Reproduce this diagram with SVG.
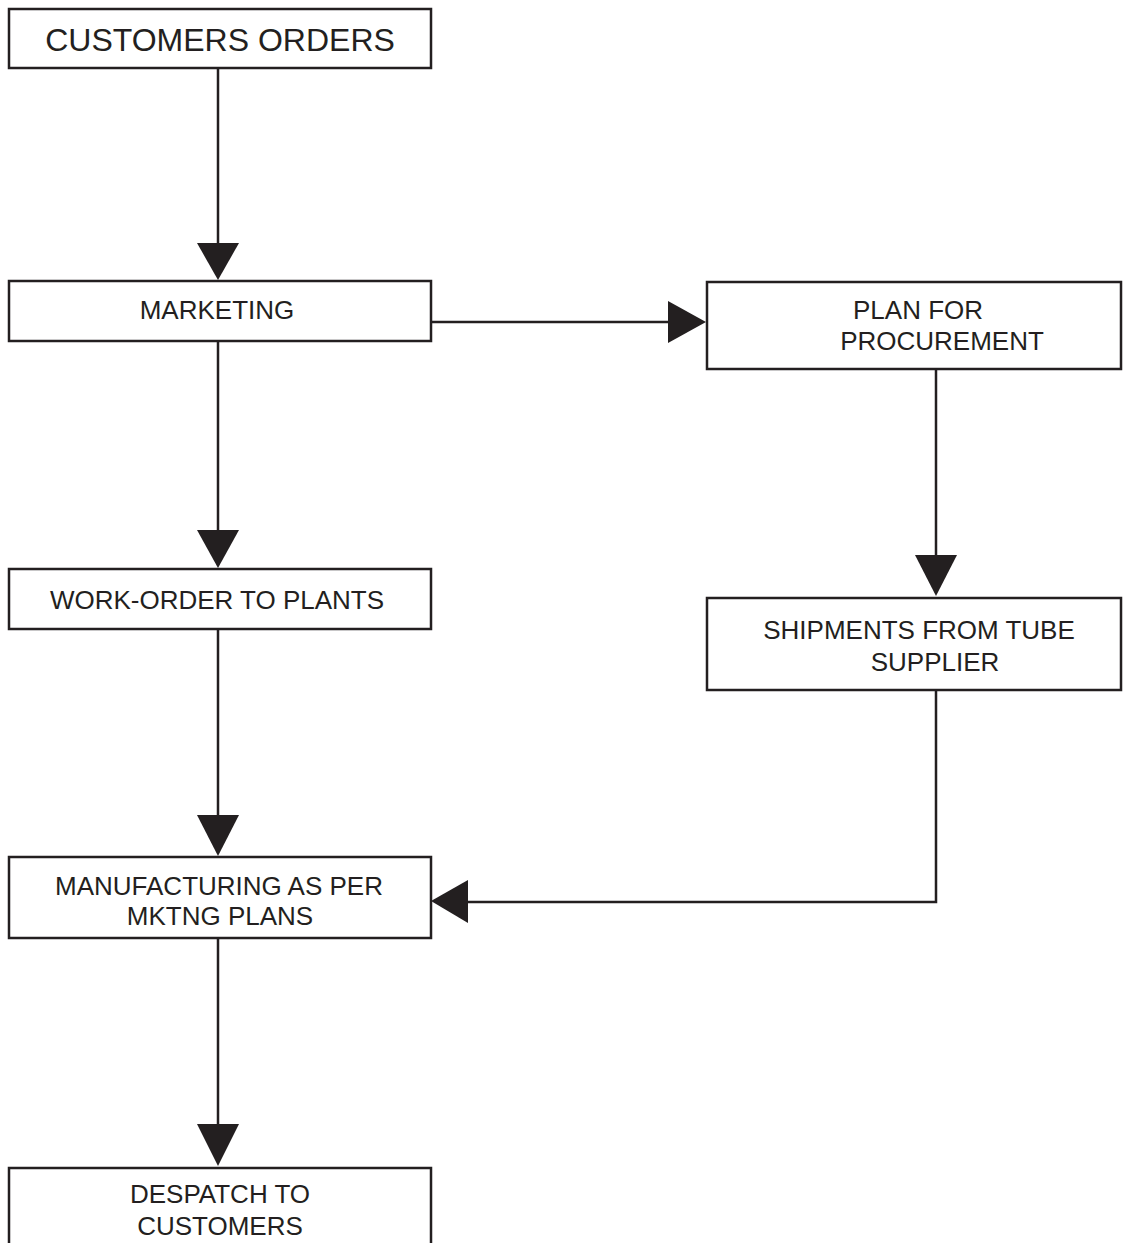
<svg xmlns="http://www.w3.org/2000/svg" width="1123" height="1243" viewBox="0 0 1123 1243">
<style>
.box{fill:#fff;stroke:#231f20;stroke-width:2.5}
.t{font-family:"Liberation Sans",Arial,sans-serif;font-size:26px;fill:#231f20;text-anchor:middle}
.big{font-size:32px}
.ln{fill:none;stroke:#231f20;stroke-width:2.5}
.hd{fill:#231f20}
</style>
<rect width="1123" height="1243" fill="#fff"/>
<g id="connectors">
<line class="ln" x1="218" y1="68" x2="218" y2="246"/>
<polygon class="hd" points="197,243 239,243 218,280"/>
<line class="ln" x1="218" y1="341" x2="218" y2="533"/>
<polygon class="hd" points="197,530 239,530 218,568"/>
<line class="ln" x1="218" y1="629" x2="218" y2="818"/>
<polygon class="hd" points="197,815 239,815 218,856"/>
<line class="ln" x1="218" y1="938" x2="218" y2="1127"/>
<polygon class="hd" points="197,1124 239,1124 218,1166"/>
<line class="ln" x1="431" y1="322" x2="671" y2="322"/>
<polygon class="hd" points="668,301 668,343 706,322"/>
<line class="ln" x1="936" y1="369" x2="936" y2="558"/>
<polygon class="hd" points="915,555 957,555 936,596"/>
<polyline class="ln" points="936,690 936,902 465,902"/>
<polygon class="hd" points="468,880 468,923 431,901"/>
</g>
<g id="customers-orders">
<rect class="box" x="9" y="9" width="422" height="59"/>
<text class="t big" x="220" y="51">CUSTOMERS ORDERS</text>
</g>
<g id="marketing">
<rect class="box" x="9" y="281" width="422" height="60"/>
<text class="t" x="217" y="319">MARKETING</text>
</g>
<g id="plan-procurement">
<rect class="box" x="707" y="282" width="414" height="87"/>
<text class="t" x="918" y="319">PLAN FOR</text>
<text class="t" x="942" y="350">PROCUREMENT</text>
</g>
<g id="work-order">
<rect class="box" x="9" y="569" width="422" height="60"/>
<text class="t" x="217" y="609">WORK-ORDER TO PLANTS</text>
</g>
<g id="shipments">
<rect class="box" x="707" y="598" width="414" height="92"/>
<text class="t" x="919" y="639">SHIPMENTS FROM TUBE</text>
<text class="t" x="935" y="671">SUPPLIER</text>
</g>
<g id="manufacturing">
<rect class="box" x="9" y="857" width="422" height="81"/>
<text class="t" x="219" y="895">MANUFACTURING AS PER</text>
<text class="t" x="220" y="925">MKTNG PLANS</text>
</g>
<g id="despatch">
<rect class="box" x="9" y="1168" width="422" height="100"/>
<text class="t" x="220" y="1203">DESPATCH TO</text>
<text class="t" x="220" y="1235">CUSTOMERS</text>
</g>
</svg>
